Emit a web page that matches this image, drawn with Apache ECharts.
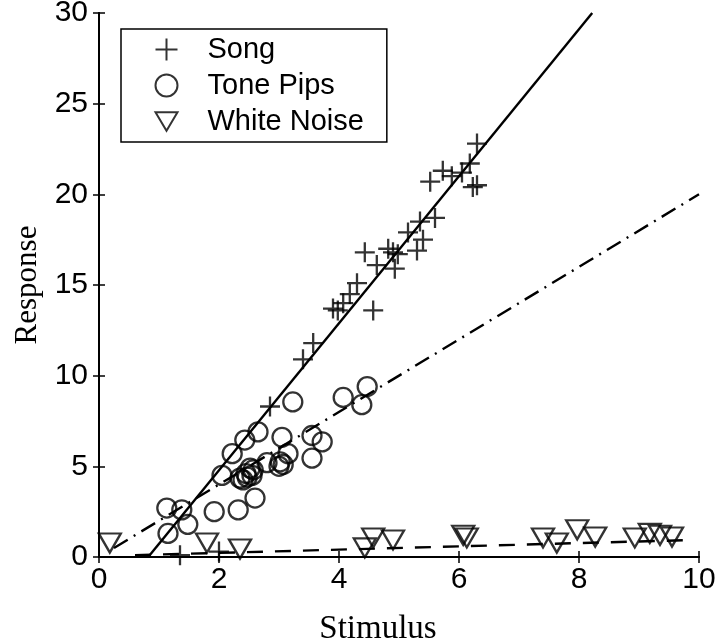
<!DOCTYPE html>
<html>
<head>
<meta charset="utf-8">
<script src="https://cdn.jsdelivr.net/npm/echarts@6/dist/echarts.min.js"></script>
<style>
  html, body { margin: 0; padding: 0; background: #fff; }
  #main { width: 720px; height: 643px; }
</style>
</head>
<body>
<div id="main"></div>
<script>
// scatter points: [stimulus, response]
var songPts = [
  [1.35, 0.1], [2.0, 0.3], [2.85, 8.3], [3.4, 10.9], [3.57, 11.8], [3.9, 13.7],
  [3.98, 13.6], [4.07, 14.0], [4.18, 14.5], [4.3, 15.1], [4.57, 13.6], [4.43, 16.8],
  [4.63, 16.1], [4.82, 17.0], [4.9, 16.8], [4.93, 15.9], [4.98, 16.7], [5.15, 17.9],
  [5.3, 16.9], [5.35, 18.5], [5.4, 17.5], [5.52, 20.7], [5.6, 18.7], [5.73, 21.3],
  [5.88, 21.0], [6.05, 21.2], [6.18, 21.7], [6.23, 20.4], [6.3, 20.5], [6.3, 22.8]
];
var tonePts = [
  [1.13, 2.7], [1.38, 2.6], [1.48, 1.8], [1.15, 1.3], [1.92, 2.5], [2.05, 4.5],
  [2.22, 5.7], [2.32, 2.6], [2.35, 4.35], [2.4, 4.25], [2.43, 6.45], [2.47, 4.4],
  [2.45, 4.6], [2.55, 4.5], [2.52, 4.9], [2.57, 4.8], [2.6, 3.25], [2.65, 6.9],
  [2.8, 5.2], [3.0, 5.0], [3.02, 5.25], [3.05, 6.6], [3.07, 5.1], [3.15, 5.7],
  [3.23, 8.55], [3.55, 6.7], [3.55, 5.45], [3.72, 6.35], [4.07, 8.8], [4.38, 8.4],
  [4.47, 9.4]
];
var noisePts = [
  [0.18, 0.77], [1.8, 0.77], [2.35, 0.44], [4.43, 0.5], [4.57, 1.05], [4.9, 0.94],
  [6.07, 1.2], [6.13, 1.05], [7.4, 1.05], [7.63, 0.77], [7.97, 1.5], [8.27, 1.1],
  [8.93, 1.05], [9.18, 1.3], [9.35, 1.2], [9.55, 1.1]
];
// fitted lines (end points)
var songFit = [[0.82, 0], [8.22, 30]];
var toneFit = [[0.25, 0.5], [10, 20]];
var noiseFit = [[0.6, 0.1], [9.8, 0.93]];

var xTicks = [0, 2, 4, 6, 8, 10];
var yTicks = [0, 5, 10, 15, 20, 25, 30];

var plusIcon = 'path://M0,-10 L0,10 M-10,0 L10,0';
var triIcon = 'path://M-10,-8.5 L10,-8.5 L0,8.5 Z';

var sansFont = '"Liberation Sans", Arial, sans-serif';
var serifFont = '"Liberation Serif", "Times New Roman", serif';

var myChart = echarts.init(document.getElementById('main'), null, { renderer: 'canvas' });

var axisCommon = {
  type: 'value',
  axisLine: { show: true, lineStyle: { color: '#000', width: 2 } },
  axisTick: { show: true, inside: true, length: 6, lineStyle: { color: '#000', width: 1.5 } },
  splitLine: { show: false }
};

var option = {
  backgroundColor: '#fff',
  animation: false,
  grid: { left: 99, right: 21, top: 13, bottom: 86, outerBoundsMode: 'none', containLabel: false },
  legend: {
    orient: 'vertical',
    left: 121,
    top: 29,
    padding: [6, 23, 6, 32],
    itemGap: 7,
    itemWidth: 22,
    itemHeight: 22,
    borderColor: '#000',
    borderWidth: 1.5,
    backgroundColor: '#fff',
    textStyle: { fontFamily: sansFont, fontSize: 29, color: '#000', padding: [0, 0, 0, 25] },
    data: ['Song', 'Tone Pips', 'White Noise']
  },
  xAxis: [
    Object.assign({}, axisCommon, {
      min: 0, max: 10, interval: 2, position: 'bottom',
      name: 'Stimulus', nameLocation: 'middle', nameGap: 56,
      nameTextStyle: { fontFamily: serifFont, fontSize: 33, color: '#000', padding: [0, 42, 0, 0] },
      axisLabel: {
        fontFamily: sansFont, fontSize: 30, color: '#000', margin: 8,
        formatter: function (v) { return xTicks.indexOf(v) >= 0 ? String(v) : ''; }
      }
    }),
    Object.assign({}, axisCommon, {
      min: 0, max: 10, interval: 2, position: 'top', axisLabel: { show: false }
    })
  ],
  yAxis: [
    Object.assign({}, axisCommon, {
      min: 0, max: 30, interval: 5, position: 'left',
      name: 'Response', nameLocation: 'middle', nameGap: 53,
      nameTextStyle: { fontFamily: serifFont, fontSize: 31, color: '#000' },
      axisLabel: {
        fontFamily: sansFont, fontSize: 30, color: '#000', margin: 11,
        formatter: function (v) { return yTicks.indexOf(v) >= 0 ? String(v) : ''; }
      }
    }),
    Object.assign({}, axisCommon, {
      min: 0, max: 30, interval: 5, position: 'right', axisLabel: { show: false }
    })
  ],
  series: [
    {
      name: 'Song', type: 'scatter', data: songPts,
      symbol: plusIcon, symbolSize: 20,
      itemStyle: { color: 'none', borderColor: '#000', borderWidth: 2.3 }
    },
    {
      name: 'Tone Pips', type: 'scatter', data: tonePts,
      symbol: 'circle', symbolSize: 19,
      itemStyle: { color: 'none', borderColor: '#000', borderWidth: 2.3 }
    },
    {
      name: 'White Noise', type: 'scatter', data: noisePts,
      symbol: triIcon, symbolSize: [22, 19],
      itemStyle: { color: 'none', borderColor: '#000', borderWidth: 2.3 }
    },
    {
      name: 'songFit', type: 'line', data: songFit, symbol: 'none',
      lineStyle: { color: '#000', width: 2.4, type: 'solid' }
    },
    {
      name: 'toneFit', type: 'line', data: toneFit, symbol: 'none',
      lineStyle: { color: '#000', width: 2.4, type: [16, 7, 2, 7] }
    },
    {
      name: 'noiseFit', type: 'line', data: noiseFit, symbol: 'none',
      lineStyle: { color: '#000', width: 2.4, type: [16, 12] }
    }
  ]
};
myChart.setOption(option);
</script>
</body>
</html>
